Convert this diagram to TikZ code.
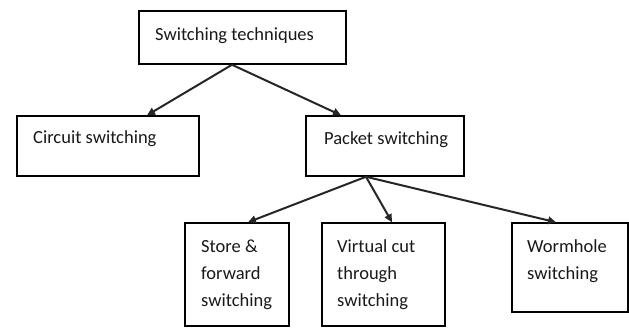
\documentclass[tikz,border=0pt]{standalone}
\usepackage{fontspec}
\setmainfont{Carlito}
\usetikzlibrary{arrows.meta,calc}

\tikzset{
  box/.style={draw=black, line width=1.5pt, fill=white, rectangle, inner sep=0pt},
  label/.style={anchor=base west, inner sep=0pt, align=left, text=black!90,
    font=\fontsize{18.5}{27}\selectfont},
  link/.style={draw=black!85, line width=2pt,
    -{Triangle[length=8pt,width=7.5pt]}},
}

\begin{document}
\begin{tikzpicture}[x=1pt, y=-1pt]
  \useasboundingbox (0,0) rectangle (629,327);

  % boxes (centre, width, height)
  \node[box, minimum width=207pt, minimum height=53pt]  (root)    at (242.5,37.5) {};
  \node[box, minimum width=182pt, minimum height=60pt]  (circuit) at (108,146)    {};
  \node[box, minimum width=158pt, minimum height=60pt]  (packet)  at (385,146)    {};
  \node[box, minimum width=104pt, minimum height=103pt] (store)   at (237,274.5)  {};
  \node[box, minimum width=123pt, minimum height=103pt] (virtual) at (383.5,274.5){};
  \node[box, minimum width=116pt, minimum height=89pt]  (worm)    at (570,267.5)  {};

  % texts, set at the upper left of each box (anchored on the last baseline)
  \node[label] (rootT)    at (155,40)  {Switching techniques};
  \node[label] (circuitT) at (33,143)  {Circuit switching};
  \node[label] (packetT)  at (324,144) {Packet switching};
  \node[label] (storeT)   at (201,306) {Store \&\\forward\\switching};
  \node[label] (virtualT) at (337,306) {Virtual cut\\through\\switching};
  \node[label] (wormT)    at (527,279) {Wormhole\\switching};

  % connector end points
  \coordinate (rootOut)   at ([xshift=-10.5pt]root.south);
  \coordinate (packetOut) at ([xshift=-19pt]packet.south);
  \coordinate (circuitIn) at ([xshift=39pt]circuit.north);
  \coordinate (packetIn)  at ([xshift=-44pt]packet.north);
  \coordinate (storeIn)   at ([xshift=11pt]store.north);
  \coordinate (virtualIn) at ([xshift=8.5pt]virtual.north);
  \coordinate (wormIn)    at ([xshift=-14pt]worm.north);

  % connectors
  \draw[link] (rootOut) -- (circuitIn);
  \draw[link] (rootOut) -- (packetIn);
  \draw[link] (packetOut) -- (storeIn);
  \draw[link] (packetOut) -- (virtualIn);
  \draw[link] (packetOut) -- (wormIn);
\end{tikzpicture}
\end{document}
